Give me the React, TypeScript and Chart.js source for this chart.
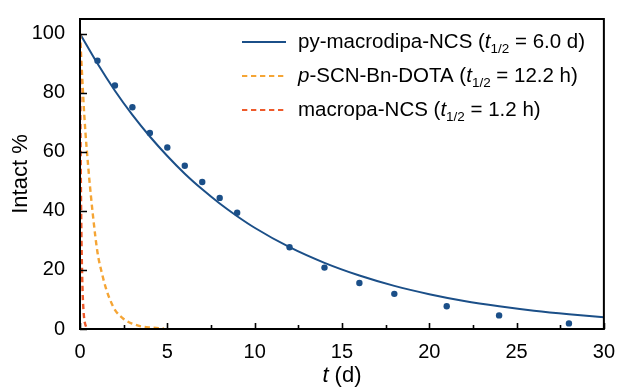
import { useEffect, useRef } from 'react';
import { Chart, registerables } from 'chart.js';

Chart.register(...registerables);

// Measured data points (py-macrodipa-NCS, % intact vs time in days)
const POINT_T = [1, 2, 3, 4, 5, 6, 7, 8, 9, 12, 14, 16, 18, 21, 24, 28];
const POINT_Y = [90.9, 82.5, 75.1, 66.4, 61.5, 55.3, 49.8, 44.4, 39.4, 27.7, 20.8, 15.6, 11.9, 7.7, 4.6, 1.9];

// Fitted decay curve (py-macrodipa-NCS)
const FIT_T = [0, 1, 2, 3, 4, 5, 6, 7, 8, 9, 10, 12, 14, 16, 18, 20, 22, 24, 26, 28, 30];
const FIT_Y = [100, 89.9, 80.7, 72.5, 65.2, 58.6, 52.6, 47.3, 42.5, 38.2, 34.3, 27.7, 22.4, 18.1, 14.6, 11.8, 9.5, 7.7, 6.2, 5.0, 4.0];

// p-SCN-Bn-DOTA decay curve
const DOTA_T = [0, 0.25, 0.5, 0.75, 1, 1.25, 1.5, 1.75, 2, 2.5, 3, 3.5, 4, 4.5, 4.8];
const DOTA_Y = [100, 72, 53, 38, 26, 19, 13.5, 9.5, 6.5, 3.4, 1.8, 0.9, 0.5, 0.3, 0.2];

// macropa-NCS decay curve
const MACROPA_T = [0, 0.025, 0.05, 0.075, 0.1, 0.15, 0.2, 0.25, 0.3, 0.35];
const MACROPA_Y = [100, 71, 50, 35, 25, 12.5, 6.3, 3.1, 1.6, 0.8];

const X_TICKS = [0, 5, 10, 15, 20, 25, 30];
const Y_TICKS = [0, 20, 40, 60, 80, 100];

const BLUE = '#1b4f88';
const ORANGE = '#f5a535';
const RED = '#ee5a2b';
const FONT = "'Liberation Sans', Arial, Helvetica, sans-serif";

type Piece = { t: string; i?: boolean; sub?: boolean };
const LEGEND: { color: string; dash: number[]; pieces: Piece[] }[] = [
  {
    color: BLUE,
    dash: [],
    pieces: [{ t: 'py-macrodipa-NCS (' }, { t: 't', i: true }, { t: '1/2', sub: true }, { t: ' = 6.0 d)' }],
  },
  {
    color: ORANGE,
    dash: [5.3, 3.7],
    pieces: [{ t: 'p', i: true }, { t: '-SCN-Bn-DOTA (' }, { t: 't', i: true }, { t: '1/2', sub: true }, { t: ' = 12.2 h)' }],
  },
  {
    color: RED,
    dash: [5.3, 3.7],
    pieces: [{ t: 'macropa-NCS (' }, { t: 't', i: true }, { t: '1/2', sub: true }, { t: ' = 1.2 h)' }],
  },
];

const zip = (xs: number[], ys: number[]) => xs.map((x, k) => ({ x, y: ys[k] }));

const framePlugin = {
  id: 'frameAndExtras',
  afterDraw(chart: any) {
    const { ctx, chartArea, scales } = chart;
    const xs = scales.x;
    const ys = scales.y;
    ctx.save();
    ctx.strokeStyle = '#000';
    ctx.lineWidth = 2;
    ctx.setLineDash([]);
    ctx.strokeRect(chartArea.left, chartArea.top, chartArea.right - chartArea.left, chartArea.bottom - chartArea.top);
    // inward ticks
    ctx.lineWidth = 1.6;
    ctx.beginPath();
    X_TICKS.forEach((v) => {
      const px = Math.round(xs.getPixelForValue(v)) + 0.5;
      ctx.moveTo(px, chartArea.bottom);
      ctx.lineTo(px, chartArea.bottom - 6);
      if (v < 30) {
        const pm = Math.round(xs.getPixelForValue(v + 2.5)) + 0.5;
        ctx.moveTo(pm, chartArea.bottom);
        ctx.lineTo(pm, chartArea.bottom - 4);
      }
    });
    Y_TICKS.forEach((v) => {
      const py = Math.round(ys.getPixelForValue(v)) + 0.5;
      ctx.moveTo(chartArea.left, py);
      ctx.lineTo(chartArea.left + 7, py);
    });
    ctx.stroke();

    // x-axis title with italic t
    ctx.fillStyle = '#000';
    ctx.textBaseline = 'middle';
    const cx = (chartArea.left + chartArea.right) / 2;
    ctx.font = `italic 22px ${FONT}`;
    const w1 = ctx.measureText('t').width;
    ctx.font = `22px ${FONT}`;
    const w2 = ctx.measureText(' (d)').width;
    const x0 = cx - (w1 + w2) / 2;
    ctx.textAlign = 'left';
    ctx.font = `italic 22px ${FONT}`;
    ctx.fillText('t', x0, 376);
    ctx.font = `22px ${FONT}`;
    ctx.fillText(' (d)', x0 + w1, 376);

    // legend
    const rows = [42, 76, 110];
    LEGEND.forEach((entry, k) => {
      const y = rows[k];
      ctx.strokeStyle = entry.color;
      ctx.lineWidth = 2;
      ctx.setLineDash(entry.dash);
      ctx.beginPath();
      ctx.moveTo(242, y);
      ctx.lineTo(286, y);
      ctx.stroke();
      ctx.setLineDash([]);
      let x = 298;
      entry.pieces.forEach((p) => {
        if (p.sub) {
          ctx.font = `13.5px ${FONT}`;
          ctx.fillText(p.t, x, y + 7);
        } else {
          ctx.font = `${p.i ? 'italic ' : ''}20.5px ${FONT}`;
          ctx.fillText(p.t, x, y);
        }
        x += ctx.measureText(p.t).width;
      });
    });
    ctx.restore();
  },
};

export default function App() {
  const ref = useRef<HTMLCanvasElement>(null);
  useEffect(() => {
    document.body.style.margin = '0';
    const chart = new Chart(ref.current as HTMLCanvasElement, {
      type: 'line',
      data: {
        datasets: [
          {
            type: 'line',
            label: 'macropa-NCS',
            data: zip(MACROPA_T, MACROPA_Y),
            borderColor: RED,
            borderWidth: 2.4,
            borderDash: [5.3, 3.7],
            pointRadius: 0,
            cubicInterpolationMode: 'monotone',
            fill: false,
          },
          {
            type: 'line',
            label: 'p-SCN-Bn-DOTA',
            data: zip(DOTA_T, DOTA_Y),
            borderColor: ORANGE,
            borderWidth: 2.4,
            borderDash: [5.3, 3.7],
            pointRadius: 0,
            cubicInterpolationMode: 'monotone',
            fill: false,
          },
          {
            type: 'line',
            label: 'py-macrodipa-NCS fit',
            data: zip(FIT_T, FIT_Y),
            borderColor: BLUE,
            borderWidth: 2,
            pointRadius: 0,
            cubicInterpolationMode: 'monotone',
            fill: false,
          },
          {
            type: 'scatter',
            label: 'py-macrodipa-NCS',
            data: zip(POINT_T, POINT_Y),
            backgroundColor: BLUE,
            borderColor: BLUE,
            pointRadius: 3.2,
            borderWidth: 0,
            showLine: false,
          },
        ],
      },
      options: {
        responsive: false,
        animation: false,
        devicePixelRatio: 1,
        layout: { padding: { left: 0, top: 14, right: 14, bottom: 0 } },
        plugins: { legend: { display: false }, tooltip: { enabled: false } },
        scales: {
          x: {
            type: 'linear',
            min: 0,
            max: 30,
            grid: { display: false },
            border: { display: false },
            ticks: { color: '#000', font: { family: FONT, size: 20 }, padding: 3, maxRotation: 0, autoSkip: false },
            afterBuildTicks: (s: any) => {
              s.ticks = X_TICKS.map((v) => ({ value: v }));
            },
            afterFit: (s: any) => {
              s.height = 58;
            },
          },
          y: {
            type: 'linear',
            min: 0,
            max: 105,
            grid: { display: false },
            border: { display: false },
            ticks: { color: '#000', font: { family: FONT, size: 20 }, padding: 7, autoSkip: false },
            afterBuildTicks: (s: any) => {
              s.ticks = Y_TICKS.map((v) => ({ value: v }));
            },
            title: {
              display: true,
              text: 'Intact %',
              color: '#000',
              font: { family: FONT, size: 22 },
              padding: { top: 8, bottom: 0 },
            },
            afterFit: (s: any) => {
              s.width = 80;
            },
          },
        },
      },
      plugins: [framePlugin],
    } as any);
    return () => chart.destroy();
  }, []);
  return (
    <div style={{ width: 618, height: 387 }}>
      <canvas ref={ref} width={618} height={387} />
    </div>
  );
}
